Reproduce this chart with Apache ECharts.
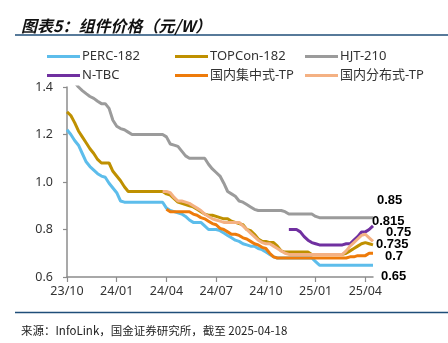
<!DOCTYPE html>
<html>
<head>
<meta charset="utf-8">
<script src="https://cdn.jsdelivr.net/npm/echarts@6/dist/echarts.min.js"></script>
<style>
html,body{margin:0;padding:0;background:#fff;}
#chart{width:448px;height:343px;}
</style>
</head>
<body>
<div id="chart"></div>
<script>
// Weekly categories (InfoLink weekly quotes), starting 2023-10-04
const startDate = '2023-10-04';
const weekCount = 81;
const weeks = [];
(function () {
  const d0 = new Date(startDate + 'T00:00:00Z');
  for (let i = 0; i < weekCount; i++) {
    const d = new Date(d0.getTime() + i * 7 * 86400000);
    weeks.push(d.toISOString().slice(0, 10));
  }
})();

const tickLabels = ['23/10', '24/01', '24/04', '24/07', '24/10', '25/01', '25/04'];
const tickEvery = 13;

const seriesNames = ['PERC-182', 'TOPCon-182', 'HJT-210', 'N-TBC', '国内集中式-TP', '国内分布式-TP'];
const endLabels = ['0.65', '0.735', '0.85', '0.815', '0.7', '0.75'];

const perc182 = [
  1.22, 1.20, 1.175, 1.155, 1.12, 1.085, 1.065, 1.05, 1.035, 1.025,
  1.02, 0.995, 0.975, 0.955, 0.92, 0.915, 0.915, 0.915, 0.915, 0.915,
  0.915, 0.915, 0.915, 0.915, 0.915, 0.915, 0.89, 0.88, 0.875, 0.87,
  0.865, 0.855, 0.84, 0.83, 0.83, 0.83, 0.815, 0.80, 0.80, 0.80,
  0.795, 0.785, 0.775, 0.765, 0.755, 0.75, 0.74, 0.735, 0.73, 0.73,
  0.72, 0.715, 0.705, 0.695, 0.685, 0.68, 0.68, 0.68, 0.68, 0.68,
  0.68, 0.68, 0.68, 0.68, 0.68, 0.665, 0.65, 0.65, 0.65, 0.65,
  0.65, 0.65, 0.65, 0.65, 0.65, 0.65, 0.65, 0.65, 0.65, 0.65,
  0.65
];

const topcon182 = [
  1.295, 1.28, 1.25, 1.215, 1.19, 1.165, 1.14, 1.12, 1.095, 1.08,
  1.08, 1.08, 1.045, 1.025, 1.005, 0.98, 0.96, 0.96, 0.96, 0.96,
  0.96, 0.96, 0.96, 0.96, 0.96, 0.96, 0.95, 0.945, 0.93, 0.915,
  0.91, 0.905, 0.90, 0.895, 0.885, 0.875, 0.865, 0.86, 0.86, 0.855,
  0.85, 0.845, 0.845, 0.835, 0.83, 0.825, 0.82, 0.80, 0.795, 0.78,
  0.76, 0.75, 0.75, 0.745, 0.745, 0.73, 0.71, 0.705, 0.705, 0.705,
  0.705, 0.705, 0.705, 0.705, 0.695, 0.695, 0.695, 0.695, 0.695, 0.695,
  0.695, 0.695, 0.695, 0.70, 0.71, 0.72, 0.73, 0.74, 0.745, 0.74,
  0.735
];

const hjt210 = [
  1.46, 1.44, 1.42, 1.40, 1.385, 1.372, 1.36, 1.352, 1.34, 1.33,
  1.33, 1.31, 1.26, 1.235, 1.225, 1.22, 1.21, 1.20, 1.20, 1.20,
  1.20, 1.20, 1.20, 1.20, 1.20, 1.20, 1.19, 1.16, 1.155, 1.15,
  1.13, 1.11, 1.10, 1.10, 1.10, 1.10, 1.10, 1.075, 1.055, 1.04,
  1.025, 0.995, 0.96, 0.95, 0.94, 0.92, 0.915, 0.905, 0.895, 0.885,
  0.88, 0.88, 0.88, 0.88, 0.88, 0.88, 0.88, 0.875, 0.865, 0.865,
  0.865, 0.865, 0.865, 0.865, 0.865, 0.855, 0.85, 0.85, 0.85, 0.85,
  0.85, 0.85, 0.85, 0.85, 0.85, 0.85, 0.85, 0.85, 0.85, 0.85,
  0.85
];

const nTBC = [
  null, null, null, null, null, null, null, null, null, null,
  null, null, null, null, null, null, null, null, null, null,
  null, null, null, null, null, null, null, null, null, null,
  null, null, null, null, null, null, null, null, null, null,
  null, null, null, null, null, null, null, null, null, null,
  null, null, null, null, null, null, null, null, 0.80, 0.80,
  0.80, 0.79, 0.77, 0.755, 0.745, 0.74, 0.735, 0.735, 0.735, 0.735,
  0.735, 0.735, 0.735, 0.74, 0.74, 0.755, 0.77, 0.79, 0.79, 0.80,
  0.815
];

const centralTP = [
  null, null, null, null, null, null, null, null, null, null,
  null, null, null, null, null, null, null, null, null, null,
  null, null, null, null, null, null, 0.885, 0.875, 0.875, 0.875,
  0.875, 0.875, 0.875, 0.865, 0.86, 0.85, 0.845, 0.835, 0.825, 0.82,
  0.805, 0.80, 0.79, 0.78, 0.78, 0.775, 0.765, 0.76, 0.75, 0.74,
  0.735, 0.725, 0.72, 0.70, 0.685, 0.68, 0.68, 0.68, 0.68, 0.68,
  0.68, 0.68, 0.68, 0.68, 0.68, 0.68, 0.68, 0.68, 0.68, 0.68,
  0.68, 0.68, 0.68, 0.68, 0.685, 0.685, 0.69, 0.69, 0.69, 0.70,
  0.70
];

const distributedTP = [
  null, null, null, null, null, null, null, null, null, null,
  null, null, null, null, null, null, null, null, null, null,
  null, null, null, null, null, 0.96, 0.96, 0.955, 0.935, 0.92,
  0.92, 0.915, 0.91, 0.90, 0.89, 0.88, 0.865, 0.855, 0.845, 0.84,
  0.835, 0.83, 0.83, 0.83, 0.83, 0.83, 0.815, 0.80, 0.785, 0.77,
  0.755, 0.745, 0.74, 0.74, 0.73, 0.72, 0.71, 0.70, 0.695, 0.695,
  0.695, 0.695, 0.695, 0.695, 0.695, 0.695, 0.695, 0.695, 0.695, 0.695,
  0.695, 0.695, 0.695, 0.71, 0.73, 0.745, 0.76, 0.775, 0.78, 0.765,
  0.75
];

const seriesData = [perc182, topcon182, hjt210, nTBC, centralTP, distributedTP];
const colors = ['#5DBDEB', '#BF9000', '#9B9B9B', '#7030A0', '#EE7B0A', '#F4B183'];
const labelOffsets = [[8, 11], [3, -1], [4, -17], [-1, -5], [12, 3], [13, -9]];

const chart = echarts.init(document.getElementById('chart'), null, { renderer: 'canvas' });

const legendFont = { fontFamily: 'Noto Sans, Noto Sans CJK SC', fontSize: 13, color: '#333' };
function legendCol(left, names) {
  return {
    orient: 'vertical', left: left, top: 45, itemGap: 6,
    itemWidth: 33, itemHeight: 3, icon: 'rect',
    textStyle: Object.assign({ padding: [0, 0, 0, -3] }, legendFont),
    data: names
  };
}

const option = {
  animation: false,
  backgroundColor: '#fff',
  title: [
    {
      text: '图表5：组件价格（元/W）', left: 16, top: 13,
      textStyle: { fontFamily: 'Noto Sans CJK SC', fontSize: 16, fontWeight: 'bold', fontStyle: 'italic', color: '#111' }
    },
    {
      text: '来源：InfoLink，国金证券研究所，截至 2025-04-18', left: 16, top: 320,
      textStyle: { fontFamily: 'Noto Sans CJK SC', fontSize: 11.5, fontWeight: 'normal', color: '#222' }
    }
  ],
  graphic: [
    { type: 'line', shape: { x1: 15, y1: 35, x2: 448, y2: 35 }, style: { stroke: '#1F4E79', lineWidth: 1.5 } },
    { type: 'line', shape: { x1: 15, y1: 312.5, x2: 448, y2: 312.5 }, style: { stroke: '#1F4E79', lineWidth: 1.5 } }
  ],
  color: colors,
  legend: [
    legendCol(42, [seriesNames[0], seriesNames[3]]),
    legendCol(170, [seriesNames[1], seriesNames[4]]),
    legendCol(300, [seriesNames[2], seriesNames[5]])
  ],
  grid: { left: 67, right: 75, top: 87, bottom: 66, containLabel: false },
  xAxis: {
    type: 'category',
    data: weeks,
    boundaryGap: false,
    axisLine: { lineStyle: { color: '#8C8C8C', width: 1.5 } },
    axisTick: { show: true, length: 5, interval: function (i) { return i % tickEvery === 0; }, lineStyle: { color: '#8C8C8C', width: 1.2 } },
    axisLabel: {
      interval: function (i) { return i % tickEvery === 0; },
      formatter: function (v, i) { return tickLabels[Math.round(i / tickEvery)] || ''; },
      fontFamily: 'Noto Sans', fontSize: 12.5, color: '#333', margin: 8
    },
    splitLine: { show: false }
  },
  yAxis: {
    type: 'value',
    min: 0.6, max: 1.4, interval: 0.2,
    axisLine: { show: true, lineStyle: { color: '#8C8C8C', width: 1.5 } },
    axisTick: { show: true, length: 4, lineStyle: { color: '#8C8C8C', width: 1.2 } },
    axisLabel: {
      formatter: function (v) { return v.toFixed(1); },
      fontFamily: 'Noto Sans', fontSize: 12.5, color: '#333', margin: 14
    },
    splitLine: { show: false }
  },
  series: seriesNames.map(function (name, k) {
    return {
      name: name,
      type: 'line',
      data: seriesData[k],
      symbol: 'none',
      clip: true,
      connectNulls: false,
      lineStyle: { width: 3, color: colors[k] },
      itemStyle: { color: colors[k] },
      endLabel: {
        show: true,
        formatter: function () { return endLabels[k]; },
        distance: 0,
        offset: labelOffsets[k],
        fontFamily: 'Liberation Sans, Arial',
        fontSize: 13, fontWeight: 'bold', color: '#000'
      }
    };
  })
};
chart.setOption(option);
</script>
</body>
</html>
